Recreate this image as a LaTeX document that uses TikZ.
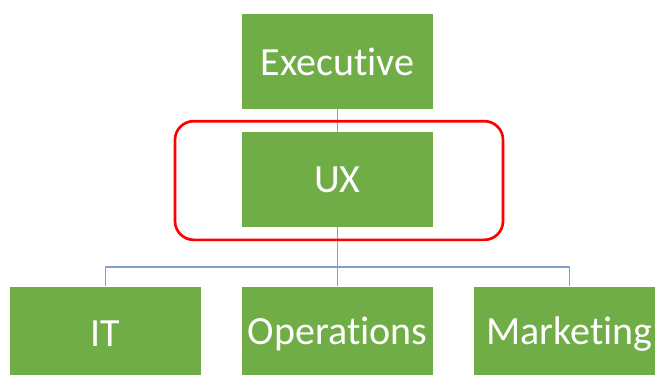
\documentclass[tikz,border=0pt]{standalone}
\usepackage{fontspec}
\setmainfont{Carlito}[Ligatures=NoCommon]
\definecolor{boxgreen}{HTML}{70AD47}
\definecolor{linkblue}{HTML}{7F9FCF}
\definecolor{marker}{HTML}{FF0000}
\begin{document}
\begin{tikzpicture}[x=0.75pt,y=-0.75pt,
  unit/.style={fill=boxgreen, draw=none, minimum width=143.25pt, minimum height=71.25pt,
    inner sep=0pt, text=white, font=\fontsize{30}{36}\selectfont},
  link/.style={draw=linkblue, line width=0.9pt},
  highlight/.style={draw=marker, line width=2pt, rounded corners=14pt,
    minimum width=246pt, minimum height=89pt, inner sep=0pt}]
  \useasboundingbox (0,0) rectangle (655,374);

  % org chart units
  \node[unit] (exec) at (337.5,61.5) {Executive};
  \node[unit] (ux)   at (337.5,179.5) {UX};
  \node[unit] (it)   at (105.5,334) {IT};
  \node[unit] (ops)  at (337.5,334) {Operations};
  \node[unit] (mkt)  at (569.5,334) {Marketing};

  % connectors
  \coordinate (bus) at (337.5,267);
  \draw[link] (exec.south) -- (ux.north);
  \draw[link] (ux.south) -- (ops.north);
  \draw[link] (it.north) |- (bus) -| (mkt.north);

  % highlight around the UX unit
  \node[highlight] (focus) at (339,180.5) {};
\end{tikzpicture}
\end{document}
